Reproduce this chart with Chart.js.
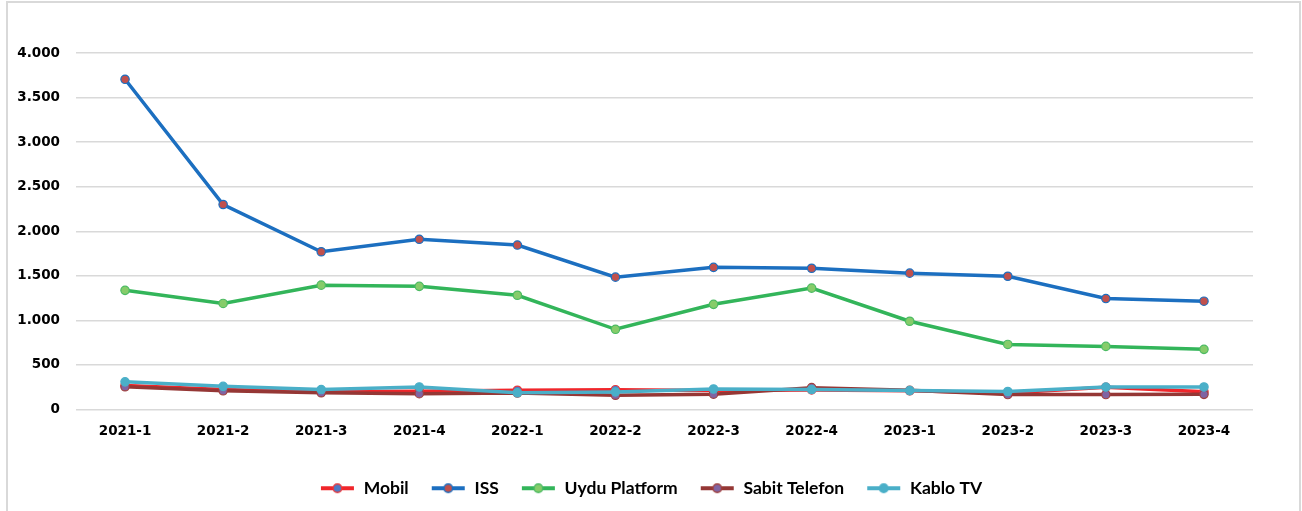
<!DOCTYPE html>
<html>
<head>
<meta charset="utf-8">
<script src="https://cdn.jsdelivr.net/npm/chart.js@4"></script>
<style>
  body { margin: 0; background: #fff; }
  #cerceve { position: absolute; left: 6px; top: 1px; width: 1295px; height: 540px; border: 2px solid #d9d9d9; box-sizing: border-box; }
  #kutu { position: absolute; left: 0; top: 0; width: 1302px; height: 511px; }
</style>
</head>
<body>
<div id="cerceve"></div>
<div id="kutu"><canvas id="grafik" width="1302" height="511"></canvas></div>
<script>
// dönemler
const donemler = ['2021-1','2021-2','2021-3','2021-4','2022-1','2022-2','2022-3','2022-4','2023-1','2023-2','2023-3','2023-4'];

// seriler (şikayet sayıları)
const mobil        = [270, 225, 200, 205, 216, 222, 212, 220, 210, 185, 250, 200];
const iss          = [3705, 2300, 1770, 1910, 1845, 1485, 1595, 1585, 1530, 1495, 1245, 1215];
const uyduPlatform = [1337, 1190, 1395, 1382, 1282, 900, 1180, 1362, 990, 730, 708, 675];
const sabitTelefon = [255, 210, 188, 178, 185, 160, 172, 245, 215, 168, 168, 170];
const kabloTV      = [310, 260, 224, 253, 188, 197, 230, 224, 212, 202, 252, 253];

const yEtiketleri = [0, 500, 1000, 1500, 2000, 2500, 3000, 3500, 4000];

// legend için çizgi + nokta resmi
function legendResmi(cizgi, dolgu, kenar) {
  const c = document.createElement('canvas');
  c.width = 35; c.height = 12;
  const g = c.getContext('2d');
  g.strokeStyle = cizgi;
  g.lineWidth = 4;
  g.beginPath(); g.moveTo(1, 6); g.lineTo(34, 6); g.stroke();
  g.fillStyle = dolgu;
  g.strokeStyle = kenar;
  g.lineWidth = 1.5;
  g.beginPath(); g.arc(17.5, 6, 4.3, 0, Math.PI * 2); g.fill(); g.stroke();
  return c;
}

function seri(ad, veri, cizgi, dolgu, kenar, sira) {
  return {
    label: ad,
    data: veri,
    order: sira,
    borderColor: cizgi,
    backgroundColor: cizgi,
    borderWidth: 3.5,
    pointRadius: 4.2,
    pointBorderWidth: 1.2,
    pointBackgroundColor: dolgu,
    pointBorderColor: kenar,
    pointStyle: 'circle',
    tension: 0,
    legendResim: legendResmi(cizgi, dolgu, kenar)
  };
}

const ctx = document.getElementById('grafik');

new Chart(ctx, {
  type: 'line',
  data: {
    labels: donemler,
    datasets: [
      seri('Mobil', mobil, '#f0262b', '#4f79c4', '#e8383c', 5),
      seri('ISS', iss, '#1c6fc0', '#c0504d', '#1c6fc0', 4),
      seri('Uydu Platform', uyduPlatform, '#33b55a', '#86cc6a', '#4cbb63', 3),
      seri('Sabit Telefon', sabitTelefon, '#953735', '#8064a2', '#a0403e', 2),
      seri('Kablo TV', kabloTV, '#4aafc8', '#4aafc8', '#4aafc8', 1)
    ]
  },
  options: {
    responsive: false,
    animation: false,
    layout: { padding: { top: 53, right: 0, bottom: 4, left: 0 } },
    scales: {
      x: {
        offset: true,
        grid: { display: false, drawTicks: false },
        border: { display: false },
        ticks: {
          padding: 14,
          color: '#000',
          maxRotation: 0,
          font: { family: 'DejaVu Sans', size: 13.5, weight: 'bold' }
        },
        afterFit: (s) => { s.height = 48; }
      },
      y: {
        min: 0,
        max: 4000,
        afterBuildTicks: (s) => { s.ticks = yEtiketleri.map(v => ({ value: v })); },
        grid: { color: '#d9d9d9', lineWidth: 1.5, drawTicks: false },
        border: { display: false },
        ticks: {
          padding: 16,
          color: '#000',
          font: { family: 'DejaVu Sans', size: 13.5, weight: 'bold' },
          callback: (v) => v.toLocaleString('de-DE')
        },
        afterFit: (s) => { s.width = 76; }
      },
      // sağdaki boşluk için görünmez eksen
      bos: {
        position: 'right',
        grid: { display: false, drawTicks: false },
        border: { display: false },
        ticks: { display: false },
        afterFit: (s) => { s.width = 49; }
      }
    },
    plugins: {
      tooltip: { enabled: false },
      legend: {
        position: 'bottom',
        labels: {
          usePointStyle: true,
          pointStyleWidth: 35,
          boxHeight: 12,
          padding: 22,
          color: '#000',
          font: { family: 'Lato', size: 17.5, weight: 'bold' },
          generateLabels: (chart) => chart.data.datasets.map((d, i) => ({
            text: d.label,
            pointStyle: d.legendResim,
            fillStyle: d.borderColor,
            strokeStyle: d.borderColor,
            lineWidth: 0,
            hidden: false,
            datasetIndex: i,
            fontColor: '#000'
          }))
        }
      }
    }
  }
});
</script>
</body>
</html>
